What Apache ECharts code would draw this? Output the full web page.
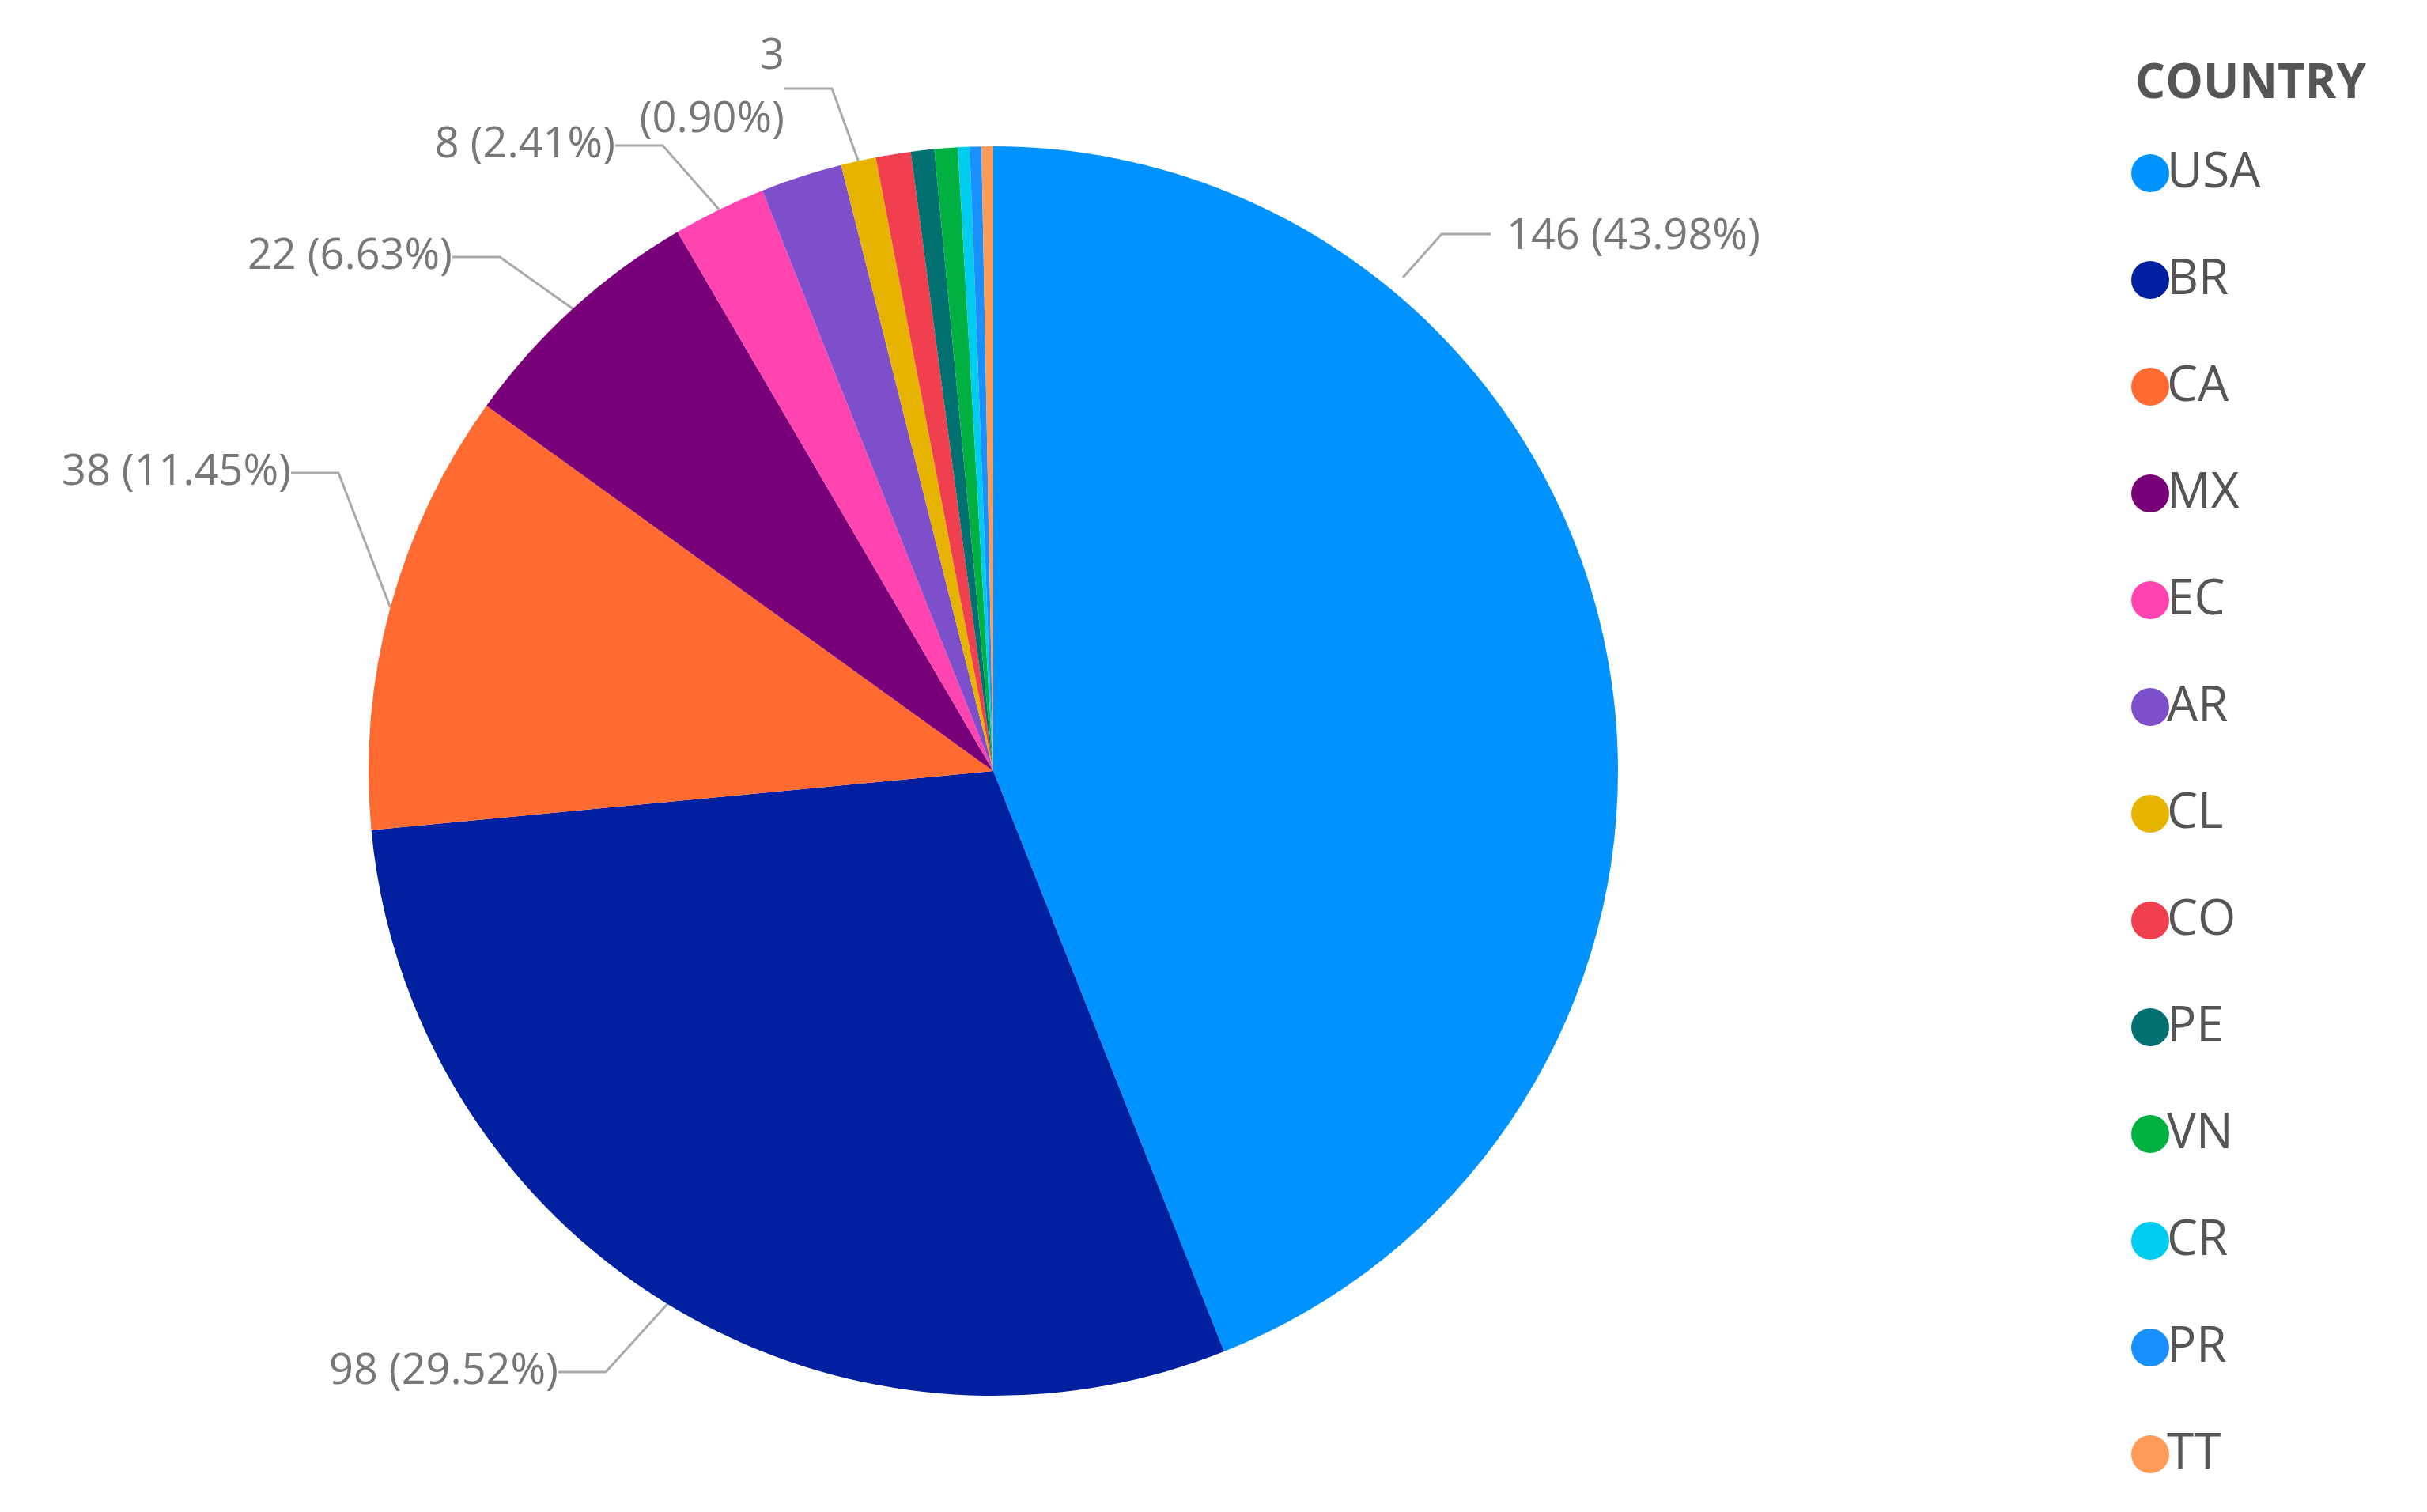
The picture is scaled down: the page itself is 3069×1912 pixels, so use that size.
<!DOCTYPE html><html><head><meta charset="utf-8">
<script src="https://cdn.jsdelivr.net/npm/echarts@6/dist/echarts.min.js"></script>
<style>html,body{margin:0;background:#fff}#c{width:3069px;height:1912px}</style></head><body><div id="c"></div>
<script>
const countries=['USA','BR','CA','MX','EC','AR','CL','CO','PE','VN','CR','PR','TT'];
const values=[146,98,38,22,8,7,3,3,2,2,1,1,1];
const colors=['#0093FF','#0020A0','#FF6A30','#780078','#FF44B0','#7E4FCB','#E6B400','#F04050','#007070','#00B040','#00CCF0','#1890FF','#FF9A58'];
const labeled=['USA','BR','CA','MX','EC','CL'];
const labelPos={USA:[1905,300,'left'],BR:[706,1735,'right'],CA:[368,598,'right'],MX:[572,325,'right'],EC:[778,184,'right'],CL:[992,112,'right']};
const chart=echarts.init(document.getElementById('c'));
chart.setOption({
  animation:false,
  title:{text:'COUNTRY',left:2695,top:72,textStyle:{fontFamily:'Open Sans',fontSize:60,fontWeight:'bold',color:'#555'}},
  legend:{orient:'vertical',left:2695,top:188,height:1720,padding:0,icon:'circle',itemWidth:48,itemHeight:48,itemGap:73,
    textStyle:{fontFamily:'Open Sans',fontSize:62,color:'#555',padding:[0,0,0,-8]},data:countries},
  series:[{type:'pie',center:[1256,975],radius:790,startAngle:90,clockwise:true,
    data:countries.map((n,i)=>({name:n,value:values[i],itemStyle:{color:colors[i]},
      label:{show:labeled.includes(n)},labelLine:{show:labeled.includes(n)}})),
    label:{fontFamily:'Open Sans',fontSize:54,color:'#777',lineHeight:80,
      formatter:p=>p.name==='CL'?p.value+'\n('+p.percent.toFixed(2)+'%)':p.value+' ('+p.percent.toFixed(2)+'%)'},
    labelLine:{length:40,length2:60,lineStyle:{color:'#aaa',width:3}},
    labelLayout:function(p){const n=countries[p.dataIndex];const q=labelPos[n];if(!q)return {};
      const r={x:q[0],y:q[1],align:q[2],verticalAlign:'middle'};
      if(n==='USA')r.labelLinePoints=[[1774,351],[1823,296],[1885,296]];
      return r;}
  }]
});
</script></body></html>
